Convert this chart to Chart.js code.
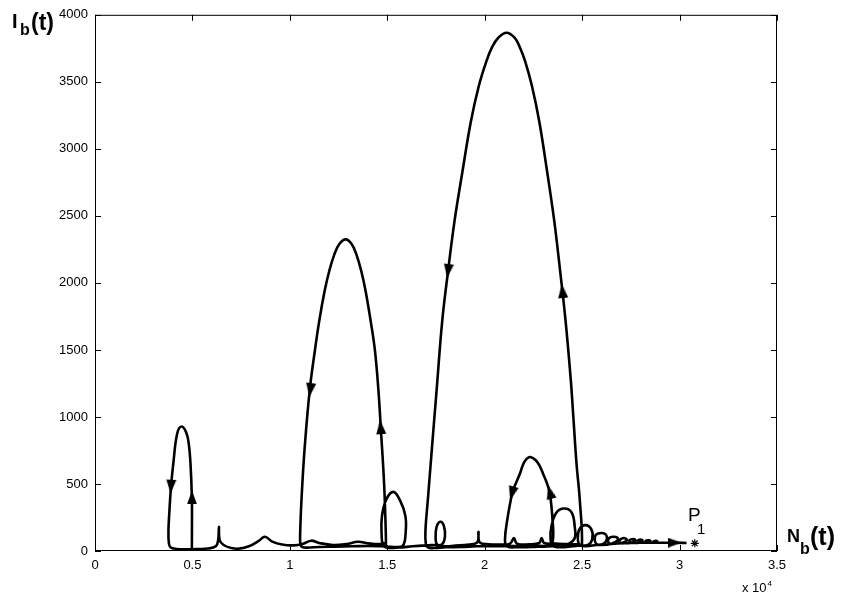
<!DOCTYPE html>
<html>
<head>
<meta charset="utf-8">
<title>I_b(t) against N_b(t)</title>
<script src="https://cdn.jsdelivr.net/npm/chart.js@4.4.1/dist/chart.umd.min.js"></script>
<style>
  html, body { margin: 0; padding: 0; background: #fff; }
  #wrap { width: 846px; height: 601px; }
</style>
</head>
<body>
<div id="wrap"><canvas id="phase" width="846" height="601"></canvas></div>
<script>
// axis ticks
const xTickValues = [0, 5000, 10000, 15000, 20000, 25000, 30000, 35000];
const xTickLabels = ['0', '0.5', '1', '1.5', '2', '2.5', '3', '3.5'];
const yTickValues = [0, 500, 1000, 1500, 2000, 2500, 3000, 3500, 4000];

// trajectory pieces as [N_b, I_b], in the order they are traversed
const firstLoop = [
    [4970, 15], [4975, 150], [4970, 404], [4900, 654], [4820, 790], [4700, 877],
    [4450, 929], [4220, 877], [4020, 654], [3900, 480], [3820, 300], [3770, 156],
    [3790, 60], [3870, 28], [4190, 15], [4600, 12], [5200, 15]
];
const upperStrand = [
    [5800, 18], [6200, 35], [6320, 80], [6360, 180], [6400, 80], [6600, 45],
    [7000, 22], [7400, 18], [7900, 35], [8400, 75], [8720, 106], [9100, 70],
    [9600, 48], [10200, 42], [10700, 55], [11100, 77], [11500, 60], [12200, 45],
    [12900, 52], [13500, 69], [14000, 58], [14600, 52], [14900, 60]
];
const secondLoop = [
    [14931, 45], [14905, 230], [14828, 528], [14674, 900], [14546, 1197],
    [14367, 1494], [14146, 1717], [13884, 1941], [13664, 2089], [13413, 2213],
    [13171, 2290], [12864, 2325], [12540, 2290], [12284, 2213], [12022, 2089],
    [11786, 1941], [11509, 1717], [11283, 1494], [11016, 1197], [10750, 751],
    [10596, 379], [10534, 156], [10540, 50], [10640, 30], [10900, 25]
];
const lowerStrand = [
    [11500, 30], [12300, 32], [13200, 35], [14000, 38], [14700, 35], [15400, 30],
    [15800, 40], [15940, 130], [15930, 260], [15650, 379], [15310, 441], [14930, 379],
    [14720, 250], [14710, 120], [14780, 45], [15000, 25], [15600, 26], [16300, 35],
    [17000, 42], [17400, 45], [17800, 48], [17960, 110], [17900, 190], [17720, 218],
    [17530, 180], [17480, 100], [17560, 48], [17900, 36], [18500, 40], [19200, 48],
    [19620, 65], [19680, 144], [19740, 65], [20200, 50], [20800, 48], [21300, 55],
    [21500, 97], [21650, 55], [22300, 50], [22800, 60], [22920, 97], [23050, 60],
    [23600, 55], [24200, 52], [24800, 50], [24990, 45]
];
const thirdLoop = [
    [24880, 379], [24710, 654], [24560, 974], [24420, 1271], [24150, 1717],
    [23870, 2089], [23570, 2461], [23200, 2833], [22800, 3204], [22430, 3465],
    [22080, 3651], [21790, 3762], [21530, 3829], [21120, 3866], [20700, 3829],
    [20390, 3762], [20080, 3651], [19690, 3465], [19290, 3204], [18860, 2833],
    [18450, 2461], [18120, 2089], [17820, 1717], [17530, 1197], [17270, 729],
    [17080, 379], [16960, 156], [16980, 50], [17100, 25], [17400, 22]
];
const tail = [
    [18000, 28], [18800, 30], [19600, 35], [20400, 35], [21200, 38], [22000, 35],
    [22800, 38], [23300, 40], [23500, 82], [23480, 230], [23345, 429], [23190, 506],
    [23000, 575], [22830, 632], [22620, 677], [22320, 701], [22090, 677], [21935, 632],
    [21810, 578], [21600, 506], [21410, 429], [21155, 230], [21040, 82], [21150, 35],
    [21700, 28], [22400, 30], [23000, 33], [23500, 35],
    [24100, 40], [24600, 90], [24620, 180], [24450, 290], [24030, 317], [23650, 280],
    [23420, 180], [23380, 90], [23480, 40], [23900, 28], [24500, 35], [24900, 42],
    [25300, 45], [25520, 90], [25480, 160], [25170, 193], [24850, 160], [24780, 90],
    [24870, 45], [25200, 35], [25700, 45], [26100, 55], [26270, 90], [26200, 125],
    [25960, 134], [25700, 120], [25650, 80], [25750, 50], [26000, 45], [26500, 55],
    [26830, 80], [26800, 100], [26580, 106], [26380, 95], [26330, 70], [26450, 55],
    [26700, 55], [27000, 60], [27300, 80], [27140, 97], [26920, 80], [26950, 60],
    [27200, 58], [27500, 62], [27730, 80], [27630, 90], [27430, 80], [27480, 62],
    [27700, 60], [27900, 62], [28100, 78], [28000, 85], [27850, 77], [27900, 64],
    [28100, 62], [28300, 64], [28500, 75], [28400, 80], [28250, 74], [28300, 64],
    [28500, 62], [28700, 64], [28850, 72], [28780, 76], [28650, 70], [28700, 64],
    [28900, 62], [29300, 62], [29800, 62], [30360, 60]
];

// direction markers: position and heading (degrees, 0 = up)
const arrowPoints = [
    [3900, 480], [4975, 400], [11050, 1200], [14660, 924], [18120, 2089],
    [23990, 1940], [21400, 430], [23345, 440], [29750, 62]
];
const arrowHeading = [183, 0, 187, 355, 187, 354, 195, 345, 90];

// equilibrium P1
const equilibrium = [[30780, 57]];

const FONT = '"Liberation Sans", Arial, Helvetica, sans-serif';

function toXY(pairs) {
    return pairs.map(p => ({ x: p[0], y: p[1] }));
}

function arrowHead() {
    const c = document.createElement('canvas');
    c.width = 10;
    c.height = 14;
    const g = c.getContext('2d');
    g.fillStyle = '#000';
    g.beginPath();
    g.moveTo(5, 0);
    g.lineTo(10, 14);
    g.lineTo(0, 14);
    g.closePath();
    g.fill();
    return c;
}

const trajectory = [].concat(firstLoop, upperStrand, secondLoop, lowerStrand, thirdLoop, tail);

// box with inward ticks plus the axis captions
const matlabFrame = {
    id: 'matlabFrame',
    afterDraw(chart) {
        const ctx = chart.ctx;
        const a = chart.chartArea;
        const xs = chart.scales.x;
        const ys = chart.scales.y;
        ctx.save();
        ctx.strokeStyle = '#000';
        ctx.lineWidth = 1;
        ctx.strokeRect(a.left + 0.5, a.top + 0.5, a.right - a.left - 1, a.bottom - a.top - 1);
        ctx.beginPath();
        xTickValues.forEach(v => {
            const px = Math.round(xs.getPixelForValue(v)) + 0.5;
            ctx.moveTo(px, a.bottom);
            ctx.lineTo(px, a.bottom - 6);
            ctx.moveTo(px, a.top);
            ctx.lineTo(px, a.top + 6);
        });
        yTickValues.forEach(v => {
            const py = Math.round(ys.getPixelForValue(v)) + 0.5;
            ctx.moveTo(a.left, py);
            ctx.lineTo(a.left + 6, py);
            ctx.moveTo(a.right, py);
            ctx.lineTo(a.right - 6, py);
        });
        ctx.stroke();

        ctx.fillStyle = '#000';
        ctx.textBaseline = 'alphabetic';
        ctx.textAlign = 'left';

        // I_b(t)
        ctx.font = 'bold 20px ' + FONT;
        ctx.fillText('I', 12, 28);
        ctx.font = 'bold 16px ' + FONT;
        ctx.fillText('b', 20, 35);
        ctx.font = 'bold 23px ' + FONT;
        ctx.fillText('(t)', 31, 30);

        // N_b(t)
        ctx.font = 'bold 18px ' + FONT;
        ctx.fillText('N', 787, 542);
        ctx.font = 'bold 16px ' + FONT;
        ctx.fillText('b', 800, 554);
        ctx.font = 'bold 25px ' + FONT;
        ctx.fillText('(t)', 810, 545);

        // x 10^4
        ctx.font = '13px ' + FONT;
        ctx.fillText('x 10', 742, 592);
        const w = ctx.measureText('x 10').width;
        ctx.font = '8px ' + FONT;
        ctx.fillText('4', 742 + w + 1, 586);

        // P1
        ctx.font = '19px ' + FONT;
        ctx.fillText('P', 688, 521);
        ctx.font = '15px ' + FONT;
        ctx.fillText('1', 697, 534);
        ctx.restore();
    }
};

const ctx = document.getElementById('phase').getContext('2d');
new Chart(ctx, {
    type: 'scatter',
    data: {
        datasets: [{
            label: 'trajectory',
            data: toXY(trajectory),
            showLine: true,
            borderColor: '#000',
            borderWidth: 2.6,
            pointRadius: 0,
            tension: 0.4,
            fill: false
        }, {
            label: 'direction',
            data: toXY(arrowPoints),
            showLine: false,
            pointStyle: arrowHead(),
            pointRotation: arrowHeading,
            pointRadius: 7
        }, {
            label: 'P1',
            data: toXY(equilibrium),
            showLine: false,
            pointStyle: 'star',
            pointRadius: 4,
            borderColor: '#000',
            borderWidth: 1.2
        }]
    },
    options: {
        responsive: false,
        animation: false,
        events: [],
        layout: { padding: { left: 0, top: 13, right: 69, bottom: 0 } },
        plugins: {
            legend: { display: false },
            tooltip: { enabled: false }
        },
        scales: {
            x: {
                type: 'linear',
                min: 0,
                max: 35000,
                grid: { display: false, drawTicks: false },
                border: { display: false },
                afterFit: scale => { scale.height = 50; },
                ticks: {
                    stepSize: 5000,
                    padding: 7,
                    color: '#000',
                    font: { family: FONT, size: 13 },
                    maxRotation: 0,
                    callback: v => xTickLabels[xTickValues.indexOf(v)]
                }
            },
            y: {
                type: 'linear',
                min: 0,
                max: 4000,
                grid: { display: false, drawTicks: false },
                border: { display: false },
                afterFit: scale => { scale.width = 95; },
                ticks: {
                    stepSize: 500,
                    padding: 7,
                    color: '#000',
                    font: { family: FONT, size: 13 },
                    callback: v => String(v)
                }
            }
        }
    },
    plugins: [matlabFrame]
});
</script>
</body>
</html>
